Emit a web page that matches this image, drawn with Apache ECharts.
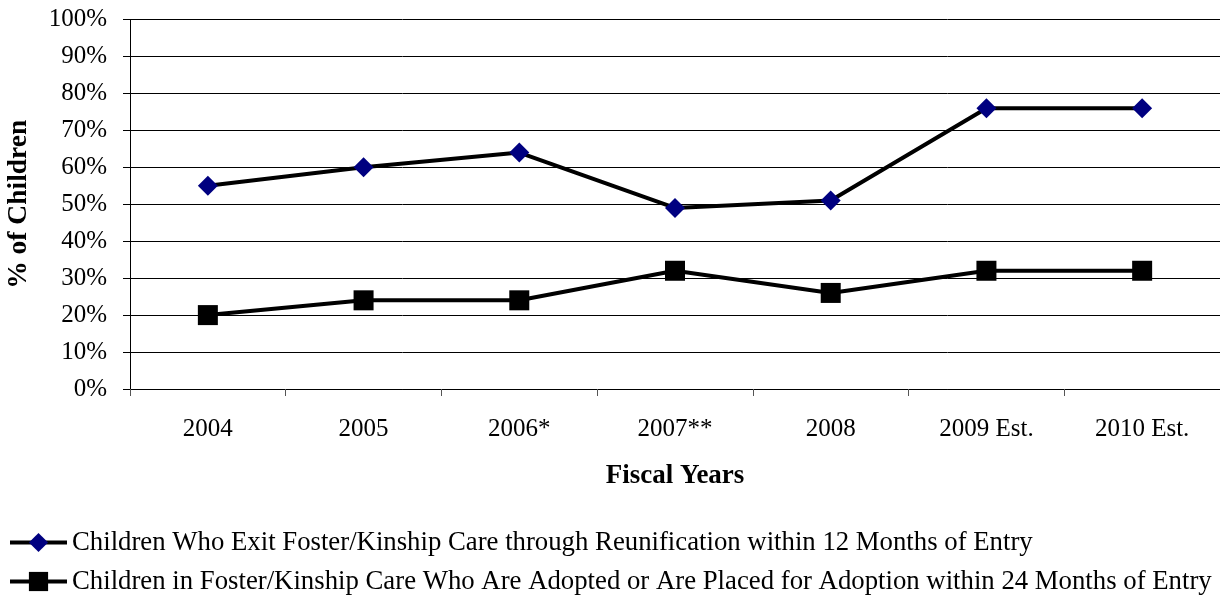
<!DOCTYPE html>
<html>
<head>
<meta charset="utf-8">
<script src="https://cdn.jsdelivr.net/npm/echarts@6/dist/echarts.min.js"></script>
<style>
  html, body { margin: 0; padding: 0; background: #fff; }
  #chart { width: 1220px; height: 595px; }
</style>
</head>
<body>
<div id="chart"></div>
<script>
// Fiscal years on the category axis
const fiscalYears = ['2004', '2005', '2006*', '2007**', '2008', '2009 Est.', '2010 Est.'];

// Percent of children, by measure
const reunificationPct = [55, 60, 64, 49, 51, 76, 76];
const adoptionPct = [20, 24, 24, 32, 26, 32, 32];

const seriesNames = [
  'Children Who Exit Foster/Kinship Care through Reunification within 12 Months of Entry',
  'Children in Foster/Kinship Care Who Are Adopted or Are Placed for Adoption within 24 Months of Entry'
];

const serif = '"Liberation Serif", "Times New Roman", serif';

const chart = echarts.init(document.getElementById('chart'), null, { renderer: 'canvas' });

chart.setOption({
  backgroundColor: '#ffffff',
  animation: false,
  textStyle: { fontFamily: serif, color: '#000' },
  grid: { left: 130, right: 0, top: 19.5, bottom: 206, containLabel: false, outerBoundsMode: 'none' },
  legend: {
    orient: 'vertical',
    left: 8,
    top: 529,
    padding: 0,
    itemWidth: 57,
    itemHeight: 24,
    itemGap: 12,
    lineStyle: { width: 4, color: '#000' },
    textStyle: { fontFamily: serif, fontSize: 26.75, color: '#000', padding: 0 },
    data: [
      { name: seriesNames[0] },
      { name: seriesNames[1] }
    ]
  },
  xAxis: {
    type: 'category',
    data: fiscalYears,
    boundaryGap: true,
    name: 'Fiscal Years',
    nameLocation: 'middle',
    nameGap: 74,
    nameTextStyle: { fontFamily: serif, fontSize: 27, fontWeight: 'bold', color: '#000' },
    axisLine: { lineStyle: { color: '#000', width: 1 } },
    axisTick: { show: true, length: 7, inside: false, lineStyle: { color: '#555' } },
    axisLabel: { fontFamily: serif, fontSize: 25, color: '#000', margin: 28 },
    splitLine: { show: false }
  },
  yAxis: {
    type: 'value',
    min: 0,
    max: 100,
    interval: 10,
    name: '% of Children',
    nameLocation: 'middle',
    nameGap: 97,
    nameRotate: 90,
    nameTextStyle: { fontFamily: serif, fontSize: 27.5, fontWeight: 'bold', color: '#000' },
    axisLine: { show: true, lineStyle: { color: '#000', width: 1 } },
    axisTick: { show: true, length: 7, lineStyle: { color: '#000' } },
    axisLabel: { fontFamily: serif, fontSize: 25, color: '#000', margin: 23, formatter: '{value}%' },
    splitLine: { show: true, lineStyle: { color: '#000', width: 1 } }
  },
  series: [
    {
      name: seriesNames[0],
      type: 'line',
      data: reunificationPct,
      symbol: 'diamond',
      symbolSize: 20,
      lineStyle: { color: '#000', width: 4 },
      itemStyle: { color: '#000080', borderWidth: 0 },
      z: 3
    },
    {
      name: seriesNames[1],
      type: 'line',
      data: adoptionPct,
      symbol: 'rect',
      symbolSize: 20,
      lineStyle: { color: '#000', width: 4 },
      itemStyle: { color: '#000', borderWidth: 0 },
      z: 3
    }
  ]
});
</script>
</body>
</html>
